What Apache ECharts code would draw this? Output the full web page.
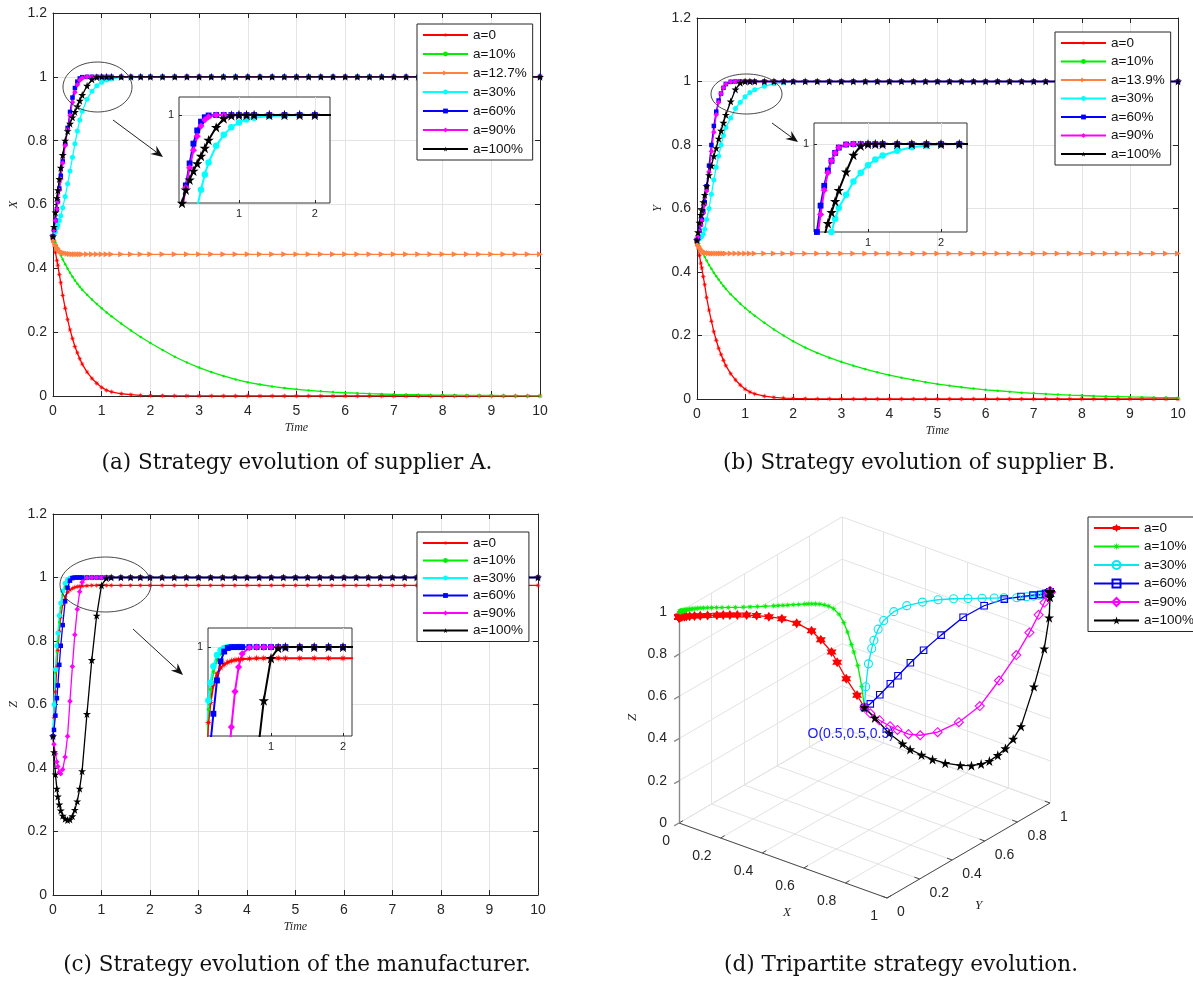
<!DOCTYPE html>
<html><head><meta charset="utf-8">
<script src="https://cdn.jsdelivr.net/npm/echarts@6/dist/echarts.min.js"></script>
<style>html,body{margin:0;padding:0;background:#fff}#c{width:1193px;height:983px}</style>
</head><body><div id="c"></div>
<script>
// ---------------- DATA ----------------
const T = [0,0.02,0.05,0.08,0.1,0.13,0.16,0.2,0.25,0.3,0.35,0.4,0.45,
  0.5,0.55,0.6,0.7,0.8,0.9,1.0,1.1,1.2,1.4,1.6,1.8,2.0,
  2.25,2.5,2.75,3,3.25,3.5,3.75,4,4.25,4.5,4.75,5,5.25,5.5,5.75,6,
  6.25,6.5,6.75,7,7.25,7.5,7.75,8,8.25,8.5,8.75,9,9.25,9.5,9.75,10];

// Panel (a): X
const X_A0 = [0.5,0.48,0.45,0.425,0.41,0.38,0.355,0.315,0.275,0.24,0.207,0.18,0.155,
  0.135,0.117,0.1,0.075,0.055,0.04,0.027,0.018,0.013,0.007,0.004,0.002,0.001,
  0.0008,0.0005,0.0003,0.0002,0.0001,0,0,0,0,0,0,0,0,0,0,0,
  0,0,0,0,0,0,0,0,0,0,0,0,0,0,0,0];
const X_A10 = [0.5,0.492,0.481,0.47,0.463,0.452,0.441,0.428,0.413,0.399,0.386,0.374,0.362,
  0.352,0.342,0.333,0.317,0.302,0.288,0.275,0.262,0.25,0.227,0.205,0.185,0.166,
  0.144,0.123,0.105,0.089,0.075,0.063,0.052,0.043,0.036,0.03,0.025,0.021,0.0175,0.0146,0.0122,0.0102,
  0.0087,0.0074,0.0063,0.0054,0.0046,0.0039,0.0033,0.0028,0.0024,0.002,0.0017,0.0015,0.0013,0.0011,0.0009,0.0008];
const X_A127 = [0.5,0.488,0.475,0.466,0.461,0.456,0.452,0.449,0.447,0.446,0.445,0.4445,0.444,
  0.444,0.444,0.444,0.444,0.444,0.444,0.444,0.444,0.444,0.444,0.444,0.444,0.444,
  0.444,0.444,0.444,0.444,0.444,0.444,0.444,0.444,0.444,0.444,0.444,0.444,0.444,0.444,0.444,0.444,
  0.444,0.444,0.444,0.444,0.444,0.444,0.444,0.444,0.444,0.444,0.444,0.444,0.444,0.444,0.444,0.444];
const X_A30 = [0.5,0.505,0.515,0.527,0.535,0.55,0.565,0.59,0.625,0.665,0.705,0.748,0.79,
  0.83,0.865,0.892,0.93,0.955,0.972,0.983,0.99,0.994,0.998,0.999,1,1,
  1,1,1,1,1,1,1,1,1,1,1,1,1,1,1,1,
  1,1,1,1,1,1,1,1,1,1,1,1,1,1,1,1];
const X_A60 = [0.5,0.52,0.55,0.585,0.61,0.65,0.69,0.735,0.79,0.84,0.89,0.935,0.965,
  0.985,0.995,0.999,1,1,1,1,1,1,1,1,1,1,
  1,1,1,1,1,1,1,1,1,1,1,1,1,1,1,1,
  1,1,1,1,1,1,1,1,1,1,1,1,1,1,1,1];
const X_A90 = [0.5,0.52,0.55,0.585,0.61,0.645,0.68,0.73,0.785,0.835,0.88,0.92,0.952,
  0.975,0.989,0.996,1,1,1,1,1,1,1,1,1,1,
  1,1,1,1,1,1,1,1,1,1,1,1,1,1,1,1,
  1,1,1,1,1,1,1,1,1,1,1,1,1,1,1,1];
const X_A100 = [0.5,0.53,0.575,0.62,0.645,0.68,0.715,0.755,0.8,0.83,0.853,0.873,0.89,
  0.907,0.925,0.943,0.972,0.992,0.999,1,1,1,1,1,1,1,
  1,1,1,1,1,1,1,1,1,1,1,1,1,1,1,1,
  1,1,1,1,1,1,1,1,1,1,1,1,1,1,1,1];

// Panel (b): Y
const Y_A0 = [0.5,0.48,0.452,0.428,0.413,0.385,0.36,0.32,0.28,0.245,0.212,0.185,0.16,
  0.14,0.122,0.105,0.08,0.06,0.044,0.031,0.022,0.016,0.009,0.005,0.003,0.002,
  0.001,0.0007,0.0004,0.0002,0,0,0,0,0,0,0,0,0,0,0,0,
  0,0,0,0,0,0,0,0,0,0,0,0,0,0,0,0];
const Y_A10 = [0.5,0.493,0.483,0.473,0.467,0.457,0.448,0.436,0.422,0.41,0.398,0.387,0.376,
  0.366,0.356,0.347,0.33,0.315,0.3,0.287,0.274,0.262,0.24,0.219,0.2,0.182,
  0.162,0.145,0.13,0.117,0.105,0.094,0.084,0.075,0.067,0.06,0.053,0.047,0.042,0.037,0.033,0.029,
  0.026,0.023,0.02,0.018,0.016,0.014,0.012,0.011,0.0095,0.0085,0.0075,0.0065,0.0058,0.005,0.0045,0.004];
const Y_A139 = [0.5,0.49,0.479,0.472,0.468,0.464,0.462,0.46,0.459,0.4585,0.458,0.458,0.458,
  0.458,0.458,0.458,0.458,0.458,0.458,0.458,0.458,0.458,0.458,0.458,0.458,0.458,
  0.458,0.458,0.458,0.458,0.458,0.458,0.458,0.458,0.458,0.458,0.458,0.458,0.458,0.458,0.458,0.458,
  0.458,0.458,0.458,0.458,0.458,0.458,0.458,0.458,0.458,0.458,0.458,0.458,0.458,0.458,0.458,0.458];
const Y_A30 = [0.5,0.501,0.505,0.51,0.513,0.52,0.535,0.565,0.6,0.645,0.69,0.73,0.765,
  0.8,0.83,0.855,0.885,0.915,0.935,0.952,0.965,0.974,0.985,0.993,0.997,0.999,
  1,1,1,1,1,1,1,1,1,1,1,1,1,1,1,1,
  1,1,1,1,1,1,1,1,1,1,1,1,1,1,1,1];
const Y_A60 = [0.5,0.51,0.53,0.55,0.565,0.59,0.62,0.67,0.735,0.8,0.86,0.905,0.94,
  0.962,0.98,0.992,0.999,1,1,1,1,1,1,1,1,1,
  1,1,1,1,1,1,1,1,1,1,1,1,1,1,1,1,
  1,1,1,1,1,1,1,1,1,1,1,1,1,1,1,1];
const Y_A90 = [0.5,0.51,0.528,0.548,0.562,0.585,0.612,0.655,0.715,0.78,0.84,0.895,0.935,
  0.962,0.98,0.992,0.999,1,1,1,1,1,1,1,1,1,
  1,1,1,1,1,1,1,1,1,1,1,1,1,1,1,1,
  1,1,1,1,1,1,1,1,1,1,1,1,1,1,1,1];
const Y_A100 = [0.5,0.525,0.555,0.58,0.595,0.62,0.643,0.67,0.705,0.735,0.765,0.79,0.82,
  0.845,0.87,0.895,0.937,0.975,0.996,1,1,1,1,1,1,1,
  1,1,1,1,1,1,1,1,1,1,1,1,1,1,1,1,
  1,1,1,1,1,1,1,1,1,1,1,1,1,1,1,1];

// Panel (c): Z
const Z_A0 = [0.5,0.56,0.64,0.72,0.77,0.83,0.875,0.915,0.94,0.953,0.961,0.966,0.969,
  0.971,0.972,0.973,0.974,0.975,0.975,0.975,0.975,0.975,0.975,0.975,0.975,0.975,
  0.975,0.975,0.975,0.975,0.975,0.975,0.975,0.975,0.975,0.975,0.975,0.975,0.975,0.975,0.975,0.975,
  0.975,0.975,0.975,0.975,0.975,0.975,0.975,0.975,0.975,0.975,0.975,0.975,0.975,0.975,0.975,0.975];
const Z_A10 = [0.5,0.6,0.7,0.765,0.8,0.86,0.905,0.945,0.972,0.985,0.992,0.996,0.998,
  0.999,1,1,1,1,1,1,1,1,1,1,1,1,
  1,1,1,1,1,1,1,1,1,1,1,1,1,1,1,1,
  1,1,1,1,1,1,1,1,1,1,1,1,1,1,1,1];
const Z_A30 = [0.5,0.6,0.71,0.785,0.825,0.88,0.92,0.957,0.982,0.993,0.998,1,1,
  1,1,1,1,1,1,1,1,1,1,1,1,1,
  1,1,1,1,1,1,1,1,1,1,1,1,1,1,1,1,
  1,1,1,1,1,1,1,1,1,1,1,1,1,1,1,1];
const Z_A60 = [0.5,0.52,0.565,0.62,0.66,0.725,0.785,0.85,0.925,0.968,0.99,0.998,1,
  1,1,1,1,1,1,1,1,1,1,1,1,1,
  1,1,1,1,1,1,1,1,1,1,1,1,1,1,1,1,
  1,1,1,1,1,1,1,1,1,1,1,1,1,1,1,1];
const Z_A90 = [0.5,0.475,0.445,0.42,0.405,0.387,0.382,0.395,0.435,0.5,0.61,0.72,0.82,
  0.9,0.955,0.985,0.999,1,1,1,1,1,1,1,1,1,
  1,1,1,1,1,1,1,1,1,1,1,1,1,1,1,1,
  1,1,1,1,1,1,1,1,1,1,1,1,1,1,1,1];
const Z_A100 = [0.5,0.45,0.38,0.335,0.31,0.285,0.266,0.25,0.24,0.236,0.238,0.248,0.268,
  0.295,0.335,0.39,0.57,0.74,0.88,0.975,0.998,1,1,1,1,1,
  1,1,1,1,1,1,1,1,1,1,1,1,1,1,1,1,
  1,1,1,1,1,1,1,1,1,1,1,1,1,1,1,1];

const TICKS3D = [0,0.2,0.4,0.6,0.8,1];
const INSET_XTICKS = [1,2];
const INSET_YTICKS = [1];

// ---------------- STYLE / LAYOUT ----------------
const AX = '#262626', GRIDC = '#e4e4e4';
const FONT = 'Liberation Sans, Arial, sans-serif';
const SERIF = 'Liberation Serif, serif';
const SYM_AST = 'path://M5,0L5.7,3.5L8.5,1.5L6.5,4.3L10,5L6.5,5.7L8.5,8.5L5.7,6.5L5,10L4.3,6.5L1.5,8.5L3.5,5.7L0,5L3.5,4.3L1.5,1.5L4.3,3.5Z';
const SYM_PENTA = 'path://M50,0L61.2,34.5L97.6,34.5L68.2,55.9L79.4,90.5L50,69.1L20.6,90.5L31.8,55.9L2.4,34.5L38.8,34.5Z';
const SYM_HEXA = 'path://M50,0L64.4,25L93.3,25L78.9,50L93.3,75L64.4,75L50,100L35.6,75L6.7,75L21.1,50L6.7,25L35.6,25Z';

const ST = {
  a0:  {color:'#ff0000', symbol:SYM_AST, size:6},
  a10: {color:'#00ee00', symbol:'circle', size:2.5},
  aO:  {color:'#ff8040', symbol:'triangle', rotate:-90, size:6},
  a30: {color:'#00ffff', symbol:'circle', size:5},
  a60: {color:'#0000ff', symbol:'rect', size:4.5},
  a90: {color:'#ff00ff', symbol:'diamond', size:5.5},
  a100:{color:'#000000', symbol:SYM_PENTA, size:8}
};
const ST3 = {
  a0:  {color:'#ff0000', symbol:SYM_HEXA, size:10},
  a10: {color:'#00ee00', symbol:SYM_AST, size:7},
  a30: {color:'#00e8f0', symbol:'circle', size:8, hollow:true},
  a60: {color:'#0000ee', symbol:'rect', size:6.5, hollow:true},
  a90: {color:'#ff00ff', symbol:'diamond', size:9, hollow:true},
  a100:{color:'#000000', symbol:SYM_PENTA, size:10}
};

const grid=[], xAxis=[], yAxis=[], series=[], legend=[], graphic=[];

function mainPanel(l,t,w,h,yName){
  const gi = grid.length;
  grid.push({left:l, top:t, width:w, height:h});
  const base = {type:'value', gridIndex:gi,
    axisLine:{show:true, onZero:false, lineStyle:{color:AX, width:1}},
    axisTick:{show:true, inside:true, length:5, lineStyle:{color:AX}}};
  const lab = {fontSize:14, color:AX, fontFamily:FONT};
  xAxis.push(Object.assign({}, base, {position:'bottom', min:0, max:10, interval:1,
    name:'Time', nameLocation:'middle', nameGap:26,
    nameTextStyle:{fontFamily:SERIF, fontStyle:'italic', fontSize:12, color:AX},
    axisLabel:Object.assign({margin:8}, lab),
    splitLine:{show:true, lineStyle:{color:GRIDC}}}));
  const xi = xAxis.length-1;
  xAxis.push(Object.assign({}, base, {position:'top', min:0, max:10, interval:1, axisLabel:{show:false}, splitLine:{show:false}}));
  yAxis.push(Object.assign({}, base, {position:'left', min:0, max:1.2, interval:0.2,
    name:yName, nameLocation:'middle', nameGap:33, nameRotate:90,
    nameTextStyle:{fontFamily:SERIF, fontStyle:'italic', fontSize:12, color:AX},
    axisLabel:Object.assign({margin:6}, lab),
    splitLine:{show:true, lineStyle:{color:GRIDC}}}));
  const yi = yAxis.length-1;
  yAxis.push(Object.assign({}, base, {position:'right', min:0, max:1.2, interval:0.2, axisLabel:{show:false}, splitLine:{show:false}}));
  return {xi, yi};
}

function insetPanel(l,t,w,h,xmin,xmax,ymin,ymax){
  const gi = grid.length;
  grid.push({left:l, top:t, width:w, height:h, show:true, backgroundColor:'#fff', borderColor:'#333', borderWidth:1, z:5});
  xAxis.push({type:'value', gridIndex:gi, min:xmin, max:xmax, z:6,
    axisLine:{show:false},
    axisTick:{show:true, inside:true, length:3, customValues:INSET_XTICKS, lineStyle:{color:AX}},
    axisLabel:{show:true, customValues:INSET_XTICKS, fontSize:11, color:AX, margin:5, fontFamily:FONT},
    splitLine:{show:true, lineStyle:{color:GRIDC}}});
  const xi = xAxis.length-1;
  yAxis.push({type:'value', gridIndex:gi, min:ymin, max:ymax, z:6,
    axisLine:{show:false},
    axisTick:{show:true, inside:true, length:3, customValues:INSET_YTICKS, lineStyle:{color:AX}},
    axisLabel:{show:true, customValues:INSET_YTICKS, fontSize:11, color:AX, margin:5, fontFamily:FONT},
    splitLine:{show:true, lineStyle:{color:GRIDC}}});
  const yi = yAxis.length-1;
  return {xi, yi};
}

function addLine(name, xs, ys, ax, st, lw, sizeMul, z){
  series.push({type:'line', name, xAxisIndex:ax.xi, yAxisIndex:ax.yi,
    data: xs.map((x,i)=>[x, ys[i]]),
    symbol:st.symbol, symbolSize:st.size*sizeMul, symbolRotate:st.rotate||0, showSymbol:true,
    lineStyle:{color:st.color, width:lw},
    itemStyle:{color:st.color},
    z:z, clip:true, silent:true, animation:false});
}

function addLegend(names, l, t, gap){
  legend.push({data:names, left:l, top:t, orient:'vertical', align:'left',
    itemGap:gap, itemWidth:45, itemHeight:6, padding:[4,6,4,5],
    backgroundColor:'#fff', borderColor:AX, borderWidth:1,
    textStyle:{fontSize:13.5, color:'#111', fontFamily:FONT},
    formatter:(n)=>n.split('|')[0], selectedMode:false, z:8});
}

// ---- Panel (a)
const A = mainPanel(53,13,487,383,'X');
const PA = [['a=0',X_A0,'a0'],['a=10%',X_A10,'a10'],['a=12.7%',X_A127,'aO'],['a=30%',X_A30,'a30'],['a=60%',X_A60,'a60'],['a=90%',X_A90,'a90'],['a=100%',X_A100,'a100']];
PA.forEach(p=>addLine(p[0]+'|a', T, p[1], A, ST[p[2]], 1.3, 1, 2));
addLegend(PA.map(p=>p[0]+'|a'), 417, 24, 5);
const AI = insetPanel(179,97,151,106,0.21,2.2,0.8,1.041);
PA.forEach(p=>addLine(p[0]+'|ai', T, p[1], AI, ST[p[2]], 2, 1.3, 7));

// ---- Panel (b)
const B = mainPanel(697,18,481,381,'Y');
const PB = [['a=0',Y_A0,'a0'],['a=10%',Y_A10,'a10'],['a=13.9%',Y_A139,'aO'],['a=30%',Y_A30,'a30'],['a=60%',Y_A60,'a60'],['a=90%',Y_A90,'a90'],['a=100%',Y_A100,'a100']];
PB.forEach(p=>addLine(p[0]+'|b', T, p[1], B, ST[p[2]], 1.3, 1, 2));
addLegend(PB.map(p=>p[0]+'|b'), 1055, 32, 4.5);
const BI = insetPanel(814,123,153,109,0.26,2.356,0.8,1.048);
PB.forEach(p=>addLine(p[0]+'|bi', T, p[1], BI, ST[p[2]], 2, 1.3, 7));

// ---- Panel (c)
const C = mainPanel(53,514,485,381,'Z');
const PC = [['a=0',Z_A0,'a0'],['a=10%',Z_A10,'a10'],['a=30%',Z_A30,'a30'],['a=60%',Z_A60,'a60'],['a=90%',Z_A90,'a90'],['a=100%',Z_A100,'a100']];
PC.forEach(p=>addLine(p[0]+'|c', T, p[1], C, ST[p[2]], 1.3, 1, 2));
addLegend(PC.map(p=>p[0]+'|c'), 417, 532, 3.5);
const CI = insetPanel(208,628,144,108,0.125,2.125,0.8,1.043);
PC.forEach(p=>addLine(p[0]+'|ci', T, p[1], CI, ST[p[2]], 2, 1.3, 7));

// ---- Panel (d): 3D projection onto a hidden cartesian grid
const D = {left:600, top:500, w:500, h:440, o:[679,823], ex:[208,75], ey:[163,-95], ez:[0,-211]};
function proj(x,y,z){
  return [D.o[0]-D.left + x*D.ex[0] + y*D.ey[0] + z*D.ez[0],
          D.o[1]-D.top  + x*D.ex[1] + y*D.ey[1] + z*D.ez[1]];
}
function pix(x,y,z){ const p=proj(x,y,z); return [p[0]+D.left, p[1]+D.top]; }
const gD = grid.length;
grid.push({left:D.left, top:D.top, width:D.w, height:D.h});
xAxis.push({type:'value', gridIndex:gD, min:0, max:D.w, show:false});
yAxis.push({type:'value', gridIndex:gD, min:0, max:D.h, inverse:true, show:false});
const DX = xAxis.length-1, DY = yAxis.length-1;

const gridSegs=[], axisSegs=[], zSegs=[];
TICKS3D.forEach(v=>{
  gridSegs.push([[v,0,0],[v,1,0]]);
  gridSegs.push([[0,v,0],[1,v,0]]);
  gridSegs.push([[0,v,0],[0,v,1]]);
  gridSegs.push([[0,0,v],[0,1,v]]);
  gridSegs.push([[v,1,0],[v,1,1]]);
  gridSegs.push([[0,1,v],[1,1,v]]);
  axisSegs.push([[v,0,0],[v,0.025,0]]);
  axisSegs.push([[1,v,0],[0.975,v,0]]);
  zSegs.push([[0,0,v],[0,-0.03,v]]);
});
axisSegs.push([[0,0,0],[1,0,0]]);
axisSegs.push([[1,0,0],[1,1,0]]);
zSegs.push([[0,0,0],[0,0,1]]);
function segSeries(segs, color, w){
  series.push({type:'lines', coordinateSystem:'cartesian2d', xAxisIndex:DX, yAxisIndex:DY,
    polyline:false, silent:true, z:1, animation:false,
    lineStyle:{color, width:w, opacity:1},
    data: segs.map(s=>({coords:[proj(...s[0]), proj(...s[1])]}))});
}
segSeries(gridSegs, '#e3e3e3', 1);
segSeries(axisSegs, '#4a4a4a', 1);
segSeries(zSegs, '#8a8a8a', 1.4);

const PD = [['a=0',X_A0,Y_A0,Z_A0,'a0'],['a=10%',X_A10,Y_A10,Z_A10,'a10'],['a=30%',X_A30,Y_A30,Z_A30,'a30'],
  ['a=60%',X_A60,Y_A60,Z_A60,'a60'],['a=90%',X_A90,Y_A90,Z_A90,'a90'],['a=100%',X_A100,Y_A100,Z_A100,'a100']];
PD.forEach(p=>{
  const st = ST3[p[4]];
  series.push({type:'line', name:p[0]+'|d', xAxisIndex:DX, yAxisIndex:DY,
    data: T.map((_,i)=>proj(p[1][i], p[2][i], p[3][i])),
    symbol:st.symbol, symbolSize:st.size, showSymbol:true,
    lineStyle:{color:st.color, width:1.3},
    itemStyle: st.hollow ? {color:'rgba(255,255,255,0)', borderColor:st.color, borderWidth:1.1} : {color:st.color},
    z:3, clip:false, silent:true, animation:false});
});
legend.push({data:PD.map(p=>p[0]+'|d'), left:1088, top:517, orient:'vertical', align:'left',
  itemGap:4.5, itemWidth:45, itemHeight:10, padding:[4,6,4,5],
  backgroundColor:'#fff', borderColor:AX, borderWidth:1,
  textStyle:{fontSize:13.5, color:'#111', fontFamily:FONT},
  formatter:(n)=>n.split('|')[0], selectedMode:false, z:8});

function txt(s, x, y, align, opt){
  return Object.assign({type:'text', x, y, silent:true, z:30,
    style:Object.assign({text:s, fill:AX, align:align||'center', verticalAlign:'middle', fontSize:14, fontFamily:FONT}, (opt&&opt.style)||{})},
    opt&&opt.rotation!==undefined?{rotation:opt.rotation}:{});
}
TICKS3D.forEach(v=>{
  const s = String(v);
  let p = pix(v,0,0); graphic.push(txt(s, p[0]-9, p[1]+18, 'right'));
  p = pix(1,v,0); graphic.push(txt(s, p[0]+10, p[1]+14, 'left'));
  p = pix(0,0,v); graphic.push(txt(s, p[0]-12, p[1], 'right'));
});
let q = pix(0.5,0,0); graphic.push(txt('X', q[0]+4, q[1]+52, 'center', {style:{fontFamily:SERIF, fontStyle:'italic', fontSize:13}}));
q = pix(1,0.5,0); graphic.push(txt('Y', q[0]+10, q[1]+55, 'center', {style:{fontFamily:SERIF, fontStyle:'italic', fontSize:13}}));
q = pix(0,0,0.5); graphic.push(txt('Z', q[0]-46, q[1], 'center', {rotation:Math.PI/2, style:{fontFamily:SERIF, fontStyle:'italic', fontSize:13}}));
q = pix(0.5,0.5,0.5); graphic.push(txt('O(0.5,0.5,0.5)', q[0]-57, q[1]+27, 'left', {style:{fill:'#1a1aff', fontSize:14}}));

// ---- Annotations: ellipses and arrows
function ellipse(cx,cy,rx,ry){ graphic.push({type:'ellipse', shape:{cx,cy,rx,ry}, style:{fill:'none', stroke:'#333', lineWidth:0.9}, silent:true, z:30}); }
function arrow(x1,y1,x2,y2){
  const a = Math.atan2(y2-y1, x2-x1), L=12, W=5, N=8;
  const c=Math.cos(a), s=Math.sin(a);
  const bx=x2-L*c, by=y2-L*s, nx=x2-N*c, ny=y2-N*s;
  graphic.push({type:'line', shape:{x1,y1,x2:nx,y2:ny}, style:{stroke:'#222', lineWidth:1}, silent:true, z:30});
  graphic.push({type:'polygon', shape:{points:[[x2,y2],[bx-W*s, by+W*c],[nx,ny],[bx+W*s, by-W*c]]}, style:{fill:'#111'}, silent:true, z:30});
}
ellipse(97.5,87,34.5,25); arrow(113,120,163,157);
ellipse(746.5,94,35.5,20); arrow(772,123,798,142);
ellipse(105.5,584.5,45.5,27.5); arrow(133,629,183,675);

// ---- Captions
const CAP = {fontSize:21.5, fontFamily:'DejaVu Serif, serif', fill:'#111'};
graphic.push(txt('(a) Strategy evolution of supplier A.', 297, 463, 'center', {style:CAP}));
graphic.push(txt('(b) Strategy evolution of supplier B.', 919, 463, 'center', {style:CAP}));
graphic.push(txt('(c) Strategy evolution of the manufacturer.', 297, 965, 'center', {style:CAP}));
graphic.push(txt('(d) Tripartite strategy evolution.', 901, 965, 'center', {style:CAP}));

const chart = echarts.init(document.getElementById('c'), null, {renderer:'canvas'});
chart.setOption({animation:false, backgroundColor:'#fff', textStyle:{fontFamily:FONT},
  grid, xAxis, yAxis, series, legend, graphic:{elements:graphic}});
</script></body></html>
